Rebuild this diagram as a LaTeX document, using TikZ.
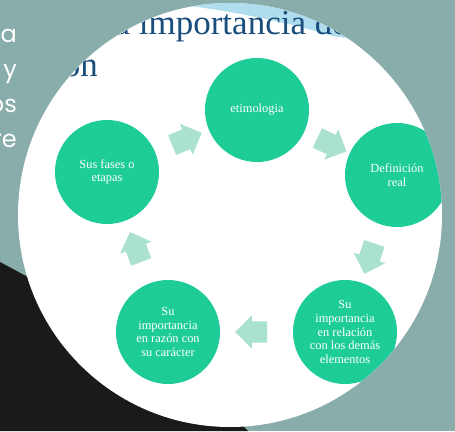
\documentclass[tikz,border=0pt]{standalone}
\usepackage{fontspec}
\setmainfont{Liberation Serif}
\newfontfamily\sidefont{Poppins}
\usetikzlibrary{shapes.arrows}

\definecolor{bgteal}{RGB}{136,173,170}
\definecolor{mint}{RGB}{30,204,152}
\definecolor{palemint}{RGB}{170,226,205}
\definecolor{titleblue}{RGB}{26,78,125}
\definecolor{swoosh}{RGB}{150,210,232}
\definecolor{darkbg}{RGB}{27,26,27}

\begin{document}
\begin{tikzpicture}[
  x=1pt, y=-1pt,
  topic/.style={circle, fill=mint, minimum size=104pt, inner sep=0pt,
    text=white, align=center, font=\fontsize{12.4}{13.7}\selectfont},
  flecha/.style={single arrow, fill=palemint, minimum height=32pt,
    inner xsep=0pt, inner ysep=10.5pt, single arrow head extend=6pt,
    sloped, allow upside down},
  sidetext/.style={anchor=base east, text=white, inner sep=0pt,
    font=\sidefont\fontsize{24}{24}\selectfont},
  titletext/.style={text=titleblue, inner sep=0pt,
    font=\fontsize{35}{35}\selectfont}
]

% Background
\fill[bgteal] (0,0) rectangle (455,431);
\useasboundingbox (0,0) rectangle (455,431);

% Text on the left, mostly hidden
\foreach \txt/\yy [count=\i] in {a/42, y/77, os/112, re/147}
  \node[sidetext] (side\i) at (17,\yy) {\txt};

% Dark shape at the bottom
\fill[darkbg] (0,262) .. controls (90,310) and (190,370) .. (248,431)
  -- (0,431) -- cycle;

% The slide, seen through a circle
\fill[white] (230,215) circle (212);
\begin{scope}
\clip (230,215) circle (212);
\fill[swoosh!75] (140,0) .. controls (240,10) and (320,28) .. (390,56)
  -- (390,0) -- cycle;
\draw[white, line width=5pt] (180,26) .. controls (260,29) and (310,35) .. (370,44);
\node[titletext, anchor=base west] (title1) at (93,34) {La importancia de la};
\node[titletext, anchor=base east] (title2) at (98,76) {ion};

% Nodes
\node[topic] (etim) at (257,110) {etimologia};
\node[topic] (defin) at (397,175) {Definición\\real};
\node[topic] (relac) at (345,332) {Su\\importancia\\en relación\\con los demás\\elementos};
\node[topic] (razon) at (168,332) {Su\\importancia\\en razón con\\su carácter};
\node[topic] (fases) at (107,172) {Sus fases o\\etapas};

% Arrows
\path (fases) -- node[flecha] (ar1) {} (etim);
\path (etim) -- node[flecha] (ar2) {} (defin);
\path (defin) -- node[flecha] (ar3) {} (relac);
\path (relac) -- node[flecha] (ar4) {} (razon);
\path (razon) -- node[flecha] (ar5) {} (fases);
\end{scope}

\end{tikzpicture}
\end{document}
